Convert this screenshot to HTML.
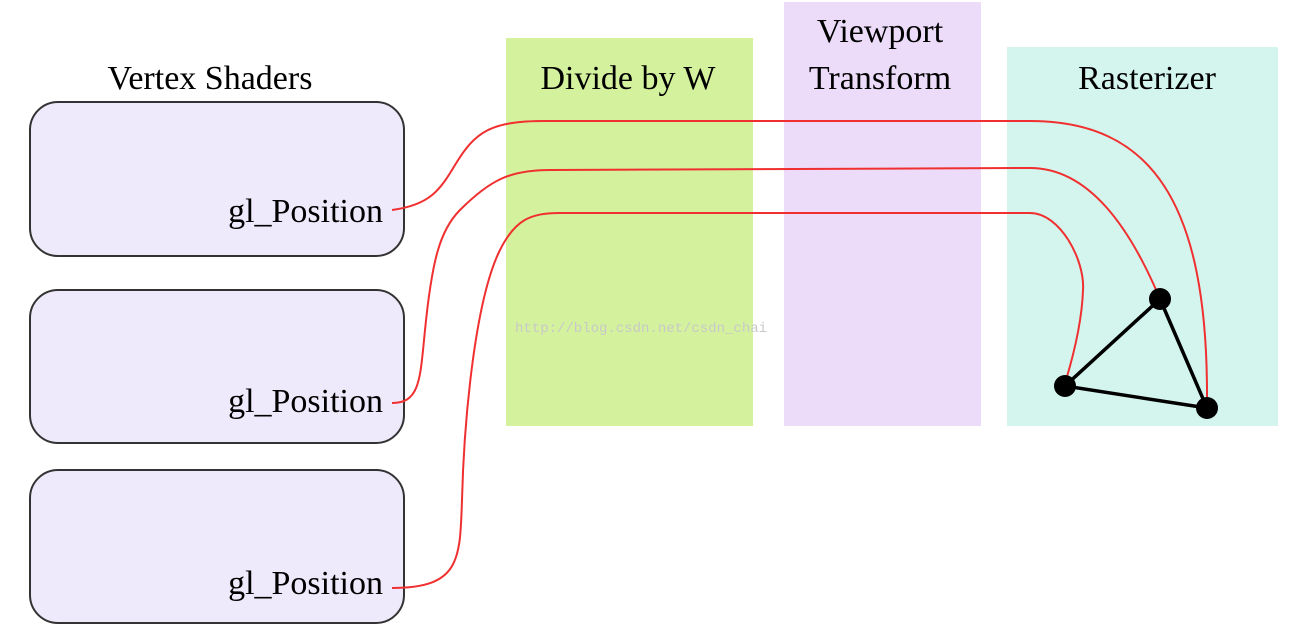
<!DOCTYPE html>
<html><head><style>body{margin:0;background:#fff}</style></head><body>
<svg width="1313" height="632" xmlns="http://www.w3.org/2000/svg" font-family="Liberation Serif, serif">
<rect x="506" y="38" width="247" height="388" fill="#d4f29e"/>
<rect x="784" y="2" width="197" height="424" fill="#ecdcf9"/>
<rect x="1007" y="47" width="271" height="379" fill="#d4f5ee"/>
<g fill="#000" font-size="34" text-anchor="middle">
<text x="210" y="89">Vertex Shaders</text>
<text x="628" y="89">Divide by W</text>
<text x="880" y="42">Viewport</text>
<text x="880" y="89">Transform</text>
<text x="1147" y="89">Rasterizer</text>
</g>
<g fill="#eeeafb" stroke="#333" stroke-width="2">
<rect x="30" y="102" width="374" height="154" rx="28"/>
<rect x="30" y="290" width="374" height="153" rx="28"/>
<rect x="30" y="470" width="374" height="153" rx="28"/>
</g>
<g font-size="34" text-anchor="end" fill="#000">
<text x="383" y="222">gl_Position</text>
<text x="383" y="412">gl_Position</text>
<text x="383" y="594">gl_Position</text>
</g>
<text x="515" y="332" font-family="Liberation Mono, monospace" font-size="14" fill="#c8c8c8">http://blog.csdn.net/csdn_chai</text>
<g fill="none" stroke="#f03030" stroke-width="2">
<path d="M392,210 C430,205 440,190 455,165 C475,132 490,121 545,121 L1030,121 C1150,121 1208,200 1207,400"/>
<path d="M392,403 C420,403 420,380 425,330 C432,260 440,230 460,210 C490,180 510,170 550,170 L1030,168 C1090,168 1130,230 1157,292"/>
<path d="M392,588 C460,588 460,560 462,500 C464,420 475,300 500,250 C515,220 530,213 560,213 L1030,213 C1060,213 1085,260 1083,290 C1082,320 1075,350 1066,380"/>
</g>
<g stroke="#000" stroke-width="3.5"><path d="M1160,299 L1065,386 L1207,408 Z" fill="none"/></g>
<g fill="#000"><circle cx="1160" cy="299" r="11"/><circle cx="1065" cy="386" r="11"/><circle cx="1207" cy="408" r="11"/></g>
</svg>
</body></html>
